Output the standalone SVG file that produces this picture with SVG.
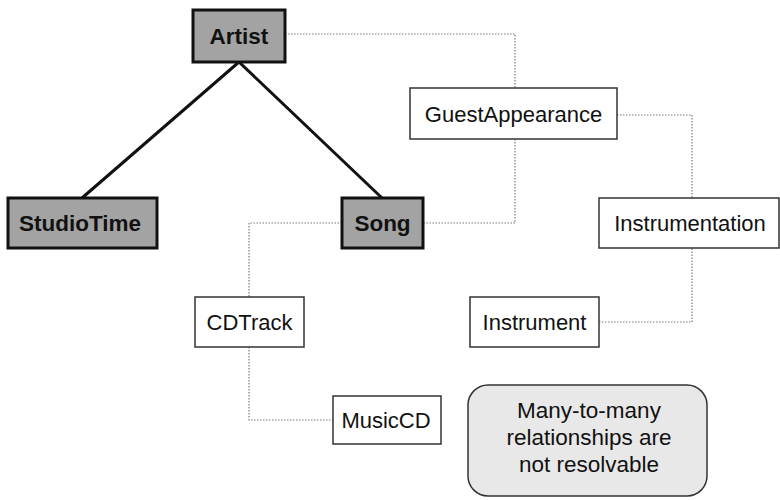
<svg xmlns="http://www.w3.org/2000/svg" width="780" height="500" viewBox="0 0 780 500">
  <style>
    .bg { fill: #ffffff; }
    .core rect { fill: #a3a3a3; stroke: #111111; stroke-width: 3; }
    .core text { font-family: "Liberation Sans", Arial, sans-serif; font-size: 22.5px; font-weight: bold; fill: #111111; text-anchor: middle; }
    .plain rect { fill: #ffffff; stroke: #333333; stroke-width: 1.5; }
    .plain text { font-family: "Liberation Sans", Arial, sans-serif; font-size: 22px; fill: #111111; text-anchor: middle; }
    .note rect { fill: #e8e8e8; stroke: #333333; stroke-width: 1.5; }
    .note text { font-family: "Liberation Sans", Arial, sans-serif; font-size: 22.5px; fill: #111111; text-anchor: middle; }
    .solid { fill: none; stroke: #111111; stroke-width: 3; }
    .dotted { fill: none; stroke: #7a7a7a; stroke-width: 1.2; stroke-dasharray: 1.5 1.5; }
  </style>

  <rect class="bg" x="0" y="0" width="780" height="500"/>

  <!-- connectors -->
  <g id="connectors">
    <line class="solid" x1="239" y1="62" x2="82" y2="198"/>
    <line class="solid" x1="239" y1="62" x2="382" y2="198"/>
    <polyline class="dotted" points="285,34 515,34 515,88"/>
    <polyline class="dotted" points="617,115 692,115 692,198"/>
    <polyline class="dotted" points="515,139 515,223 423,223"/>
    <polyline class="dotted" points="342,223 249,223 249,297"/>
    <polyline class="dotted" points="249,347 249,420 333,420"/>
    <polyline class="dotted" points="599,322 692,322 692,248"/>
  </g>

  <!-- entities -->
  <g id="artist" class="core">
    <rect x="193" y="10" width="92" height="52"/>
    <text x="239" y="44">Artist</text>
  </g>
  <g id="studiotime" class="core">
    <rect x="8" y="198" width="149" height="50"/>
    <text x="80" y="231">StudioTime</text>
  </g>
  <g id="song" class="core">
    <rect x="342" y="198" width="81" height="50"/>
    <text x="382.5" y="231">Song</text>
  </g>
  <g id="guestappearance" class="plain">
    <rect x="410" y="88" width="207" height="51"/>
    <text x="513.5" y="121.5">GuestAppearance</text>
  </g>
  <g id="instrumentation" class="plain">
    <rect x="599" y="198" width="180" height="50"/>
    <text x="690" y="231">Instrumentation</text>
  </g>
  <g id="cdtrack" class="plain">
    <rect x="195" y="297" width="109" height="50"/>
    <text x="249.5" y="330">CDTrack</text>
  </g>
  <g id="instrument" class="plain">
    <rect x="470" y="297" width="129" height="50"/>
    <text x="534.5" y="330">Instrument</text>
  </g>
  <g id="musiccd" class="plain">
    <rect x="333" y="396" width="108" height="48"/>
    <text x="386" y="428">MusicCD</text>
  </g>

  <!-- note -->
  <g id="note" class="note">
    <rect x="468" y="385" width="239" height="111" rx="20" ry="20"/>
    <text x="589" y="418">Many-to-many</text>
    <text x="589" y="445">relationships are</text>
    <text x="589" y="472">not resolvable</text>
  </g>
</svg>
